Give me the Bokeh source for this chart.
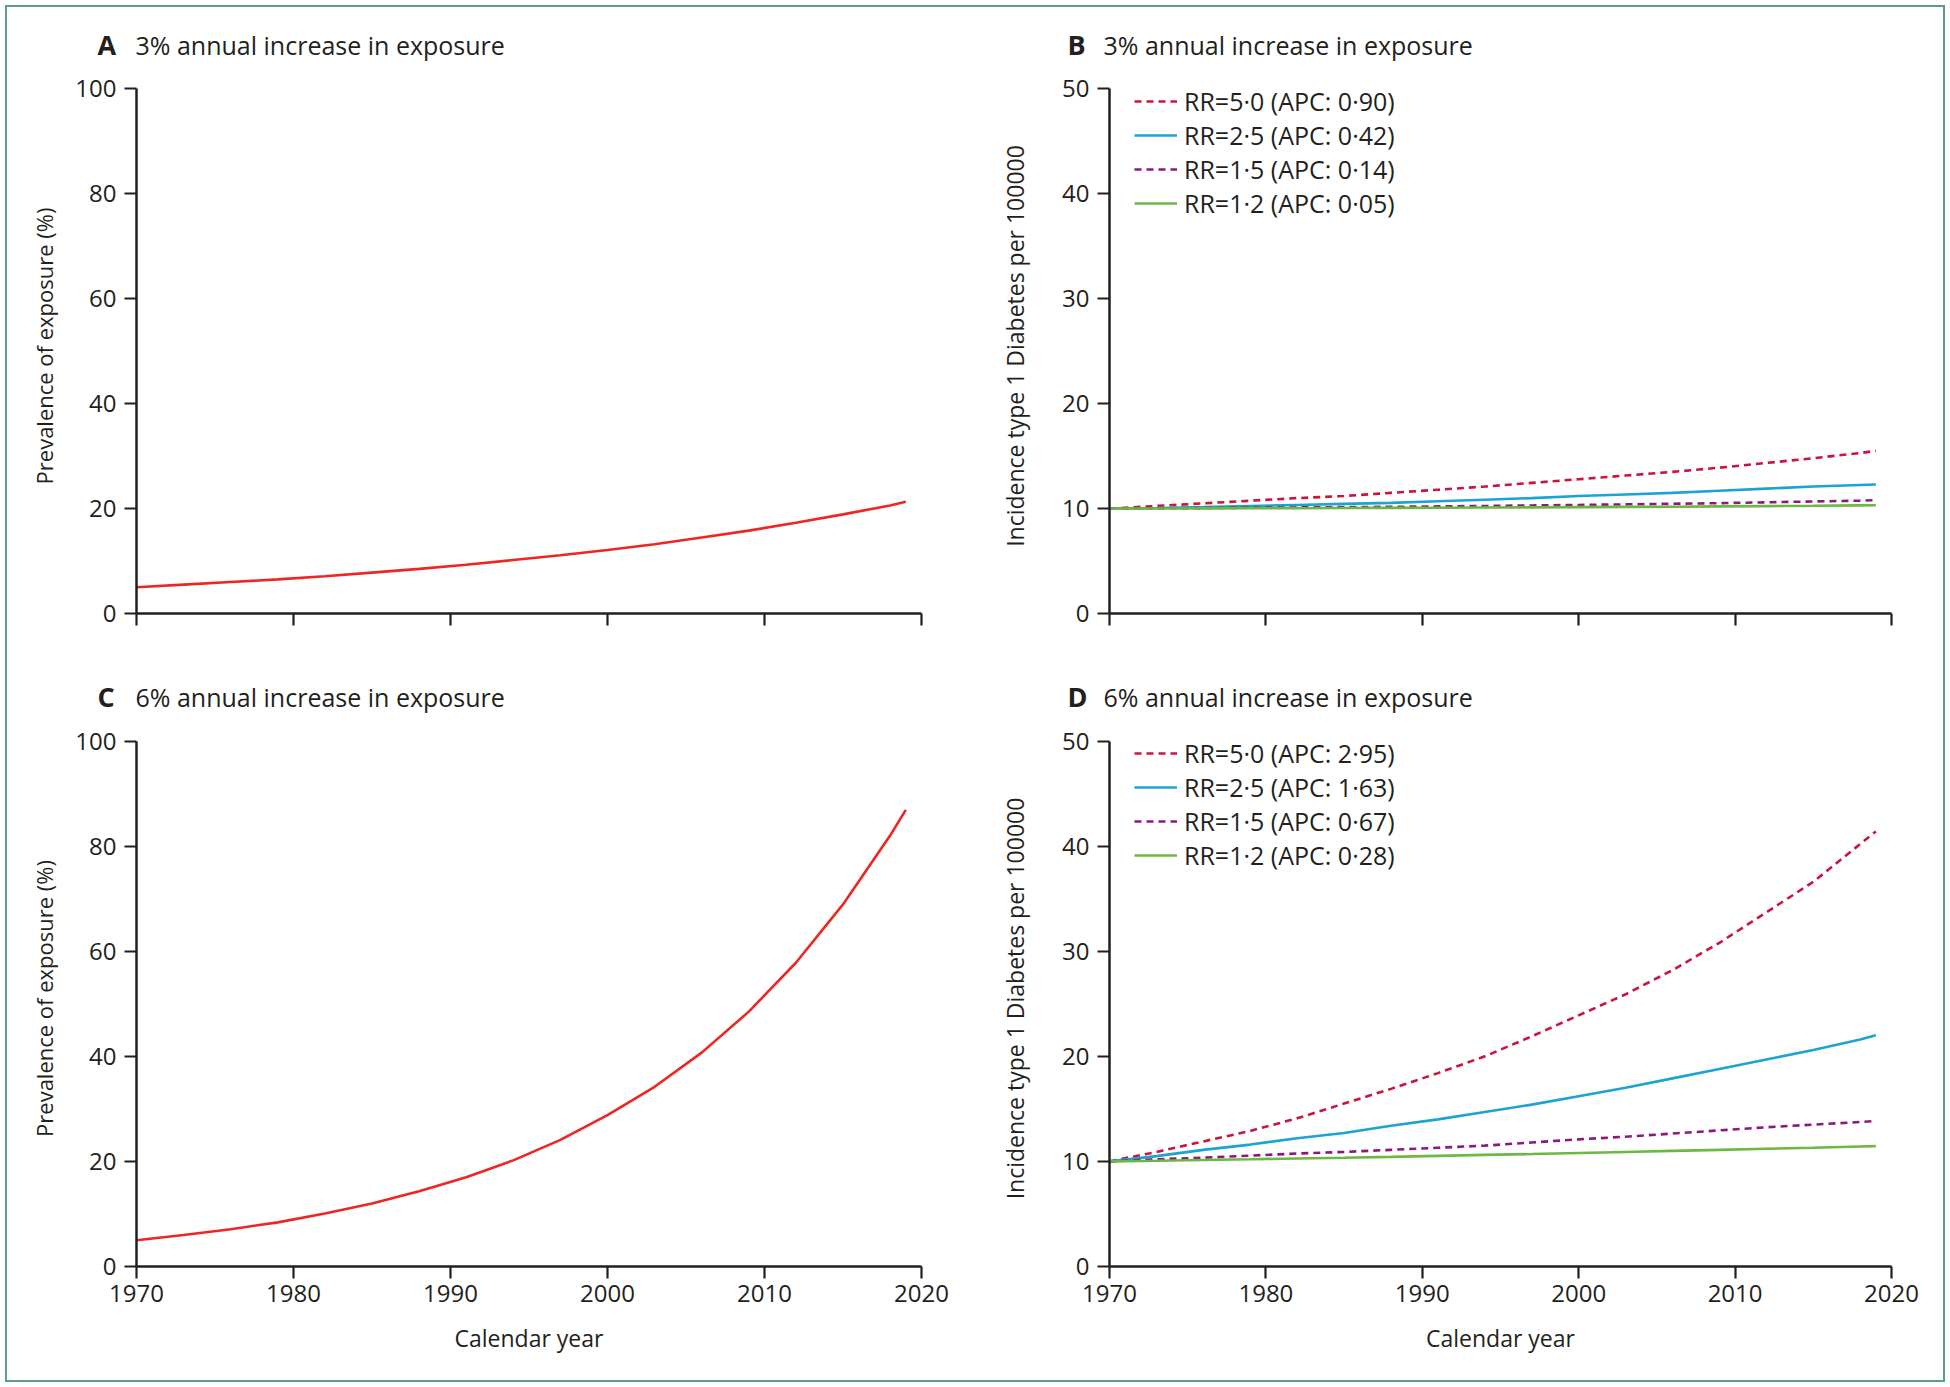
from bokeh.plotting import figure
from bokeh.models import Range1d, FixedTicker, Label, Legend, LegendItem, CustomJSTickFormatter
from bokeh.layouts import column, row
from bokeh.embed import file_html
from bokeh.resources import INLINE

# ---------------- data ----------------
years = [1970, 1973, 1976, 1979, 1982, 1985, 1988, 1991, 1994, 1997,
         2000, 2003, 2006, 2009, 2012, 2015, 2018, 2019]

prev_3pct = [5.0, 5.5, 6.0, 6.5, 7.1, 7.8, 8.5, 9.3, 10.2, 11.1,
             12.1, 13.2, 14.5, 15.8, 17.3, 18.9, 20.6, 21.3]
prev_6pct = [5.0, 6.0, 7.1, 8.4, 10.1, 12.0, 14.3, 17.0, 20.2, 24.1,
             28.8, 34.2, 40.7, 48.5, 57.8, 68.9, 82.0, 86.9]

inc3_rr50 = [10.0, 10.25, 10.5, 10.75, 11.0, 11.2, 11.5, 11.8, 12.1, 12.45,
             12.8, 13.15, 13.5, 13.9, 14.35, 14.8, 15.3, 15.5]
inc3_rr25 = [10.0, 10.06, 10.15, 10.25, 10.35, 10.45, 10.55, 10.7, 10.85, 11.0,
             11.2, 11.35, 11.5, 11.7, 11.9, 12.1, 12.25, 12.3]
inc3_rr15 = [10.0, 10.02, 10.05, 10.08, 10.11, 10.14, 10.17, 10.21, 10.25, 10.3,
             10.35, 10.4, 10.46, 10.52, 10.6, 10.68, 10.76, 10.8]
inc3_rr12 = [10.0, 10.01, 10.02, 10.03, 10.04, 10.06, 10.07, 10.08, 10.1, 10.12,
             10.14, 10.16, 10.18, 10.21, 10.24, 10.27, 10.31, 10.32]

inc6_rr50 = [10.0, 10.9, 11.9, 12.9, 14.1, 15.5, 16.9, 18.4, 20.0, 21.9,
             23.9, 25.9, 28.2, 30.8, 33.7, 36.6, 40.2, 41.4]
inc6_rr25 = [10.0, 10.5, 11.1, 11.6, 12.2, 12.7, 13.4, 14.0, 14.7, 15.4,
             16.2, 17.0, 17.9, 18.8, 19.7, 20.6, 21.6, 22.0]
inc6_rr15 = [10.0, 10.2, 10.35, 10.55, 10.75, 10.9, 11.1, 11.3, 11.5, 11.8,
             12.1, 12.35, 12.65, 12.95, 13.25, 13.5, 13.75, 13.85]
inc6_rr12 = [10.0, 10.06, 10.13, 10.2, 10.28, 10.35, 10.43, 10.53, 10.62, 10.7,
             10.8, 10.9, 11.0, 11.1, 11.2, 11.3, 11.42, 11.45]

legend_3pct = ["RR=5\u00b70 (APC: 0\u00b790)", "RR=2\u00b75 (APC: 0\u00b742)",
               "RR=1\u00b75 (APC: 0\u00b714)", "RR=1\u00b72 (APC: 0\u00b705)"]
legend_6pct = ["RR=5\u00b70 (APC: 2\u00b795)", "RR=2\u00b75 (APC: 1\u00b763)",
               "RR=1\u00b75 (APC: 0\u00b767)", "RR=1\u00b72 (APC: 0\u00b728)"]

x_ticks = [1970, 1980, 1990, 2000, 2010, 2020]
prev_ticks = [0, 20, 40, 60, 80, 100]
inc_ticks = [0, 10, 20, 30, 40, 50]

letters = ["A", "B", "C", "D"]
titles = ["3% annual increase in exposure", "3% annual increase in exposure",
          "6% annual increase in exposure", "6% annual increase in exposure"]
prev_label = "Prevalence of exposure (%)"
inc_label = "Incidence type 1 Diabetes per 100000"
x_label = "Calendar year"

# ---------------- styling ----------------
INK = "#231f20"
FONT = "Open Sans"
RED = "#ee2622"
RR_COLORS = ["#c8143f", "#1ba3d3", "#8c1a7c", "#6cb843"]
RR_DASH = ["7 5", "solid", "7 5", "solid"]


def make_panel(w, h, bl, br, bt, bb, ymax, ytop, yticks, show_xlabels, ylabel, ylab_size, ylab_standoff):
    p = figure(width=w, height=h, x_range=Range1d(1970, 2020), y_range=Range1d(0, ytop),
               output_backend="svg", toolbar_location=None,
               min_border_left=bl, min_border_right=br, min_border_top=bt, min_border_bottom=bb)
    p.outline_line_color = None
    p.grid.visible = False
    p.background_fill_color = "white"
    p.border_fill_color = "white"
    for ax in (p.xaxis[0], p.yaxis[0]):
        ax.axis_line_color = INK
        ax.axis_line_width = 2.5
        ax.major_tick_line_color = INK
        ax.major_tick_line_width = 2.2
        ax.major_tick_in = 0
        ax.major_tick_out = 12
        ax.minor_tick_line_color = None
        ax.major_label_text_font = FONT
        ax.major_label_text_font_size = "24px"
        ax.major_label_text_color = INK
        ax.axis_label_text_font = FONT
        ax.axis_label_text_font_size = "23px"
        ax.axis_label_text_font_style = "normal"
        ax.axis_label_text_color = INK
    p.xaxis.ticker = FixedTicker(ticks=x_ticks)
    p.yaxis.ticker = FixedTicker(ticks=yticks)
    p.yaxis.bounds = (0, ymax)
    p.yaxis.major_label_standoff = 8
    p.yaxis.axis_label = ylabel
    p.yaxis.axis_label_text_font_size = ylab_size
    p.yaxis.axis_label_standoff = ylab_standoff
    if show_xlabels:
        p.xaxis.major_label_standoff = 6
        p.xaxis.axis_label = x_label
        p.xaxis.axis_label_standoff = 17
    else:
        p.xaxis.formatter = CustomJSTickFormatter(code="return ''")
    return p


def make_title_strip(w, h, idx_pair, letter_xs, text_xs, baseline):
    # a full-width strip whose frame covers the whole canvas (screen px = data units)
    t = figure(width=w, height=h, x_range=Range1d(0, w), y_range=Range1d(0, h),
               output_backend="svg", toolbar_location=None,
               x_axis_location=None, y_axis_location=None,
               min_border_left=0, min_border_right=0, min_border_top=0, min_border_bottom=0)
    t.grid.visible = False
    t.outline_line_color = None
    t.background_fill_color = "white"
    t.border_fill_color = "white"
    for idx, lx, tx in zip(idx_pair, letter_xs, text_xs):
        t.add_layout(Label(x=lx, y=baseline, text=letters[idx], text_font=FONT,
                           text_font_style="bold", text_font_size="27px", text_color=INK,
                           text_baseline="alphabetic", text_align="left"))
        t.add_layout(Label(x=tx, y=baseline, text=titles[idx], text_font=FONT,
                           text_font_size="25px", text_color=INK,
                           text_baseline="alphabetic", text_align="left"))
    return t


def add_rr_lines(p, series, labels, fh):
    items = []
    for s, lab, col, dash in zip(series, labels, RR_COLORS, RR_DASH):
        r = p.line(years, s, line_color=col, line_width=2.6, line_dash=dash)
        items.append(LegendItem(label=lab, renderers=[r]))
    n = len(items)
    leg = Legend(items=items, location=(25, fh - 6 - n * 34),
                 label_text_font=FONT, label_text_font_size="25px", label_text_color=INK,
                 glyph_width=43, glyph_height=34, label_height=34, spacing=0,
                 padding=0, margin=0, border_line_color=None, background_fill_alpha=0,
                 label_standoff=7)
    p.add_layout(leg)


WL, WR = 989, 947
WT = WL + WR

# Row 1 titles (A, B)
t1 = make_title_strip(WT, 57, (0, 1), (90, 1060), (128, 1096), 20)

# Panel A (frame extends a little above 100 so that both panels of a row share frame edges)
pa = make_panel(WL, 611, 129, 75, 14, 62, 100, 102, prev_ticks, False, prev_label, "22px", 13)
pa.line(years, prev_3pct, line_color=RED, line_width=2.6)

# Panel B (frame extends 1 unit above 50 so the legend is not clipped)
pb = make_panel(WR, 611, 110, 52, 14, 62, 50, 51, inc_ticks, False, inc_label, "23px", 28)
add_rr_lines(pb, [inc3_rr50, inc3_rr25, inc3_rr15, inc3_rr12], legend_3pct, 535)

# Row 2 titles (C, D)
t2 = make_title_strip(WT, 41, (2, 3), (90, 1060), (128, 1096), 20)

# Panel C
pc = make_panel(WL, 664, 129, 75, 14, 114, 100, 102, prev_ticks, True, prev_label, "22px", 13)
pc.line(years, prev_6pct, line_color=RED, line_width=2.6)

# Panel D
pd_ = make_panel(WR, 664, 110, 52, 14, 114, 50, 51, inc_ticks, True, inc_label, "23px", 28)
add_rr_lines(pd_, [inc6_rr50, inc6_rr25, inc6_rr15, inc6_rr12], legend_6pct, 536)

layout = column(
    t1,
    row(pa, pb, spacing=0),
    t2,
    row(pc, pd_, spacing=0),
    spacing=0,
    styles={"border": "2px solid #5c9f7e", "background-color": "white", "margin": "5px"})

open("out.html", "w").write(file_html(layout, INLINE))
